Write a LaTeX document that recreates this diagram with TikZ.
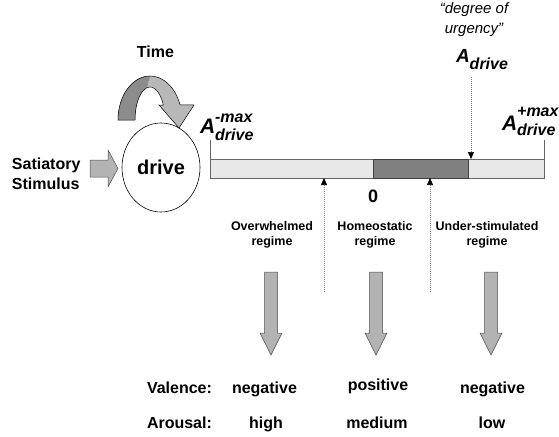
\documentclass[tikz,border=0pt]{standalone}
\usepackage{fontspec}
\setmainfont{Liberation Sans}
\usetikzlibrary{arrows.meta,shapes.geometric}
\definecolor{barlight}{HTML}{E8E8E8}
\definecolor{bardark}{HTML}{808080}
\definecolor{blockfill}{HTML}{B3B3B3}
\definecolor{curvedark}{HTML}{8C8C8C}
\definecolor{curvelight}{HTML}{B8B8B8}
\newcommand{\Alab}[5]{{\fontsize{#1}{#1}\selectfont\bfseries\itshape A}\rlap{\raisebox{#2pt}{\fontsize{16}{16}\selectfont\bfseries\itshape #4}}\raisebox{-#3pt}{\fontsize{16}{16}\selectfont\bfseries\itshape #5}}
\begin{document}
\begin{tikzpicture}[x=1pt,y=-1pt,
  txt/.style={inner sep=0pt, outer sep=0pt, anchor=base},
  big/.style={txt, font=\bfseries\fontsize{16}{19}\selectfont},
  small/.style={txt, font=\bfseries\fontsize{12.5}{15}\selectfont},
  dotarrow/.style={draw=gray, line width=0.6pt, dash pattern=on 1pt off 1pt, -{Triangle[length=7pt,width=6pt,color=black,fill=black]}},
  blockarrow/.style={fill=blockfill, draw=black!70, line width=0.5pt, line join=miter},
  downblock/.pic={\path[blockarrow] (-6.5,0) -- (6.5,0) -- (6.5,61) -- (11,61) -- (0,83) -- (-11,61) -- (-6.5,61) -- cycle;}
]
\useasboundingbox (0,0) rectangle (559,436);

% Satiatory stimulus
\node[big, anchor=base west] (sat1) at (12,169) {Satiatory};
\node[big, anchor=base west] (sat2) at (12,189) {Stimulus};
\path[blockarrow] (90,160) -- (108,160) -- (108,150) -- (118,168.5) -- (108,187) -- (108,177) -- (90,177) -- cycle;

% drive circle
\node[draw=black, line width=0.6pt, ellipse, inner sep=0pt, minimum width=78pt, minimum height=89pt, font=\bfseries\fontsize{20}{24}\selectfont] (drive) at (161,167.5) {drive};

% Time curved arrow
\node[big] (time) at (155.5,58) {Time};
\path[fill=curvelight] (118,120) arc[start angle=180,end angle=340,x radius=32,y radius=44] -- (194,105) -- (179,128) -- (159,105) -- (163.37,105.02) arc[start angle=333,end angle=180,x radius=15,y radius=33] -- cycle;
\path[fill=curvedark] (118,120) arc[start angle=180,end angle=270,x radius=32,y radius=44] -- (147,87.5) arc[start angle=258,end angle=180,x radius=15,y radius=33] -- cycle;
\draw[line width=0.5pt, line join=miter] (118,120) arc[start angle=180,end angle=340,x radius=32,y radius=44] -- (194,105) -- (179,128) -- (159,105) -- (163.37,105.02) arc[start angle=333,end angle=180,x radius=15,y radius=33] -- cycle;

% bar
\coordinate (barNW) at (210,159);
\coordinate (barSE) at (544,178);
\coordinate (homL) at (373,159);
\coordinate (homR) at (468,178);
\draw[fill=barlight, draw=black!60, line width=0.6pt] (barNW) rectangle (barSE);
\draw[fill=bardark, draw=black!75, line width=0.6pt] (homL) rectangle (homR);
\coordinate (tickL) at (210,140);
\coordinate (tickR) at (544,140);
\draw[black!60, line width=0.6pt] (tickL) -- (barNW);
\draw[black!60, line width=0.6pt] (tickR) -- (barSE |- barNW);

% A labels
\node[txt, anchor=base west] (amin) at (200,133) {\Alab{21}{11}{7}{-max}{drive}};
\node[txt, anchor=base west] (amax) at (502,130) {\Alab{21}{14}{5}{+max}{drive}};
\node[txt, anchor=base west] (adrive) at (456,63) {\Alab{19}{0}{7}{}{drive}};
\node[txt, font=\itshape\fontsize{15}{18}\selectfont] (deg1) at (474,14) {“degree of};
\node[txt, font=\itshape\fontsize{15}{18}\selectfont] (deg2) at (474,34) {urgency”};

% zero
\node[txt, font=\bfseries\fontsize{18}{20}\selectfont] (zero) at (373,202) {0};

% dotted arrows
\coordinate (urgTop) at (471,77);
\coordinate (urgBot) at (471,159);
\draw[dotarrow] (urgTop) -- (urgBot);
\coordinate (upAbot) at (324,292);
\coordinate (upAtop) at (324,178);
\draw[dotarrow] (upAbot) -- (upAtop);
\coordinate (upBbot) at (430,292);
\coordinate (upBtop) at (430,178);
\draw[dotarrow] (upBbot) -- (upBtop);

% regimes
\node[small] (ov1) at (272,230) {Overwhelmed};
\node[small] (ov2) at (272,245) {regime};
\node[small] (ho1) at (375,230) {Homeostatic};
\node[small] (ho2) at (375,245) {regime};
\node[small] (un1) at (487,230) {Under-stimulated};
\node[small] (un2) at (487,245) {regime};

% block arrows
\pic at (271,272) {downblock};
\pic at (376,272) {downblock};
\pic at (491,272) {downblock};

% valence / arousal
\node[big, anchor=base west] (val) at (147,393) {Valence:};
\node[big, anchor=base west] (aro) at (147,428) {Arousal:};
\node[big] (v1) at (264.5,393) {negative};
\node[big] (v2) at (378,390) {positive};
\node[big] (v3) at (492.5,393) {negative};
\node[big] (a1) at (266,428) {high};
\node[big] (a2) at (377,428) {medium};
\node[big] (a3) at (492,428) {low};
\end{tikzpicture}
\end{document}
